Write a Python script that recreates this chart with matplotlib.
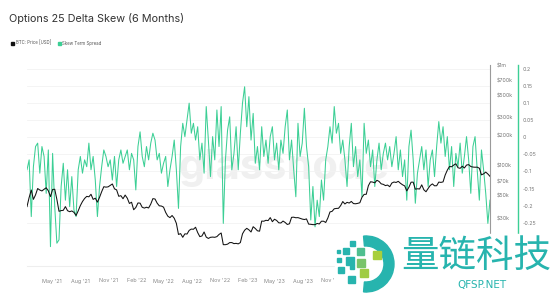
import numpy as np
import pandas as pd
import matplotlib
matplotlib.use("Agg")
import matplotlib.pyplot as plt
import matplotlib.dates as mdates
from matplotlib.patches import Rectangle, Wedge

# Weekly BTC price (USD), Feb 2021 - Apr 2025
btc_price = [
    39000, 48000, 57000, 46000, 51000, 59000, 57000, 55800, 58000, 60000, 56000, 49000,
    57800, 58000, 46000, 35000, 35600, 35800, 39000, 35500, 34700, 35300, 34200, 31800,
    35400, 39900, 43800, 47000, 49300, 48800, 51700, 46000, 47300, 43200, 48200, 54900,
    61500, 60900, 61300, 63300, 65500, 58600, 57200, 49400, 50100, 46700, 50800,
    47300, 41900, 43100, 36300, 38200, 42400, 42200, 38400, 37700, 38400, 37800, 41300,
    46800, 46400, 42200, 39700, 39500, 38500, 34100, 31300, 30300, 31800, 29900, 26600,
    20600, 21000, 19300, 20900, 20800, 22600, 23300, 23200, 24300, 21500, 19600, 19900,
    21800, 19400, 18800, 19300, 19400, 19300, 19600, 20600, 21300, 16300, 16300, 16500,
    17100, 17100, 16700, 16800,
    16600, 17100, 20900, 22700, 23700, 22900, 21800, 24600, 23600, 22400, 22200, 28000,
    27900, 28500, 28300, 30300, 27600, 29200, 28400, 26900, 26800, 28000, 27100, 25900,
    26300, 30500, 30600, 30200, 30300, 29800, 29300, 29000, 29400, 26100, 26000, 25800,
    25800, 26500, 26200, 27900, 27900, 27100, 30000, 34500, 35000, 37100, 37400, 37500,
    39900, 43800, 41400, 43000, 42300,
    43900, 41800, 41600, 42000, 42600, 48300, 51600, 51700, 63000, 68900, 68400, 67200,
    71300, 69400, 65700, 64900, 63100, 63900, 61500, 66900, 68500, 67800, 69600, 66600,
    64300, 62700, 55900, 60800, 68200, 68300, 58100, 58700, 58400, 64200, 57300, 54800,
    59100, 63300, 65600, 62800, 62900, 68400, 67900, 68700, 80500, 89900, 97700, 97200,
    101000, 104000, 95000, 93700,
    98300, 94500, 101000, 102000, 97700, 96500, 96100, 96300, 94000, 80700, 82600, 86000,
    82300, 78000,
]

# Weekly 25 delta skew term spread (6 months)
skew_spread = [
    -0.095, -0.066, -0.232, -0.086, -0.027, -0.017, -0.105, -0.027, -0.056, -0.164,
    -0.037, -0.320, -0.047, -0.203, -0.310, -0.300, -0.144, -0.076, -0.184, -0.095,
    -0.203, -0.115, -0.213, -0.232, -0.095, -0.056, -0.105, -0.066, -0.086, -0.017,
    -0.095, -0.056, -0.125, -0.232, -0.144, -0.086, -0.037, -0.056, -0.086, -0.066,
    -0.125, -0.056, -0.144, -0.066, -0.037, -0.076, -0.056, -0.037, -0.095, -0.047,
    -0.066, -0.154, -0.027, 0.016, -0.056, -0.086, -0.027, -0.066, -0.017, 0.012,
    -0.008, -0.066, -0.047, -0.105, -0.076, -0.056, -0.144, -0.095, -0.056, -0.008,
    -0.095, -0.208, -0.027, 0.041, 0.002, 0.050, 0.100, 0.012, 0.041, -0.008,
    0.031, -0.066, -0.017, -0.105, 0.090, -0.008, -0.115, 0.002, -0.066, 0.080,
    -0.027, 0.090, -0.252, -0.066, 0.021, 0.060, -0.095, -0.047, 0.031, -0.095,
    0.012, 0.100, 0.148, 0.031, 0.119, -0.008, 0.070, -0.076, -0.027, -0.095,
    0.031, -0.056, -0.008, -0.076, 0.002, 0.031, -0.066, -0.017, -0.095, -0.008,
    -0.047, 0.031, 0.080, -0.066, -0.008, -0.095, -0.174, 0.041, -0.056, -0.017,
    0.085, -0.027, -0.086, -0.242, -0.144, -0.262, -0.184, -0.232, -0.125, -0.184,
    -0.066, -0.027, 0.031, -0.017, 0.090, 0.012, 0.041, -0.047, -0.008, -0.066,
    -0.144, -0.027, 0.041, -0.086, -0.027, -0.115, -0.066, -0.174, 0.041, -0.047,
    -0.008, -0.086, -0.037, -0.144, -0.066, -0.017, -0.095, -0.047, -0.017, -0.066,
    -0.027, -0.086, -0.047, 0.002, -0.095, -0.037, -0.115, -0.066, -0.184, -0.027,
    0.021, -0.066, -0.193, -0.105, -0.066, -0.027, -0.095, -0.037, -0.144, -0.066,
    -0.037, -0.115, -0.027, 0.046, -0.017, 0.031, -0.056, 0.002, -0.095, -0.027,
    -0.144, -0.047, -0.086, -0.017, -0.105, -0.056, 0.002, -0.066, -0.164, -0.027,
    0.002, -0.095, -0.184, -0.037, -0.095, -0.164, -0.252, -0.184,
]

dates = pd.date_range("2021-02-07", periods=len(btc_price), freq="W")

# only the labels not hidden by the site watermark
x_ticks = pd.date_range("2021-05-01", "2023-11-01", freq="3MS")
price_ticks = [30000, 50000, 70000, 100000, 200000, 300000, 500000, 700000, 1000000]
price_labels = ["$30k", "$50k", "$70k", "$100k", "$200k", "$300k", "$500k", "$700k", "$1m"]
skew_ticks = [-0.25, -0.2, -0.15, -0.1, -0.05, 0, 0.05, 0.1, 0.15, 0.2]

GREEN = "#3ccf95"
TEAL = "#27b4ae"

plt.rcParams["font.family"] = ["Inter", "DejaVu Sans"]

W, H = 555, 295
fig = plt.figure(figsize=(W / 100, H / 100), dpi=100)
fig.patch.set_facecolor("white")

ax = fig.add_axes([27 / W, 1 - 266 / H, 463 / W, 201 / H])
ax2 = ax.twinx()

# skew (green) on the outer right axis
ax.plot(dates, skew_spread, color=GREEN, lw=0.75, zorder=3)
ax.set_ylim(-0.3767, 0.2117)
ax.set_xlim(dates[0], dates[-1])
ax.set_yticks(skew_ticks)
ax.set_yticklabels([f"{t:g}" for t in skew_ticks])
ax.yaxis.tick_right()
ax.spines["right"].set_position(("outward", 20))
ax.spines["right"].set_color(GREEN)
ax.spines["right"].set_linewidth(1.0)
for s in ["left", "top"]:
    ax.spines[s].set_visible(False)
ax.spines["bottom"].set_color("#eeeeee")
ax.tick_params(axis="y", length=0, pad=3.5, labelsize=3.8, labelcolor="#777777")
ax.grid(axis="y", color="#f3f3f3", lw=0.6)
ax.set_xticks(x_ticks)
ax.xaxis.set_major_formatter(mdates.DateFormatter("%b '%y"))
ax.tick_params(axis="x", length=0, pad=9, labelsize=3.9, labelcolor="#888888")
ax.text(0.555, 0.49, "glassnode", transform=ax.transAxes, ha="center", va="center",
        fontsize=30, fontweight="bold", color="#f0f0f0", zorder=1)

# BTC price (black) on the inner right axis, log scale
ax2.plot(dates, btc_price, color="#111111", lw=0.75, zorder=4)
ax2.set_yscale("log")
ax2.set_ylim(1e4, 1e6)
ax2.set_yticks(price_ticks)
ax2.set_yticklabels(price_labels)
ax2.yaxis.set_minor_locator(matplotlib.ticker.NullLocator())
for s in ["left", "top", "bottom"]:
    ax2.spines[s].set_visible(False)
ax2.spines["right"].set_color("#9a9a9a")
ax2.spines["right"].set_linewidth(0.8)
ax2.tick_params(axis="y", length=0, pad=5, labelsize=3.8, labelcolor="#777777")

# title and legend
fig.text(9 / W, 1 - 18 / H, "Options 25 Delta Skew (6 Months)", fontsize=7.8,
         color="#333333", va="center", ha="left")

ov = fig.add_axes([0, 0, 1, 1], zorder=10)
ov.set_xlim(0, W)
ov.set_ylim(H, 0)
ov.axis("off")
ov.patch.set_alpha(0)

ov.add_patch(Rectangle((10.5, 41.5), 3, 3, color="#111111"))
ov.text(15.5, 43, "BTC: Price [USD]", fontsize=3.1, color="#555555", va="center")
ov.add_patch(Rectangle((57.5, 41.5), 3, 3, color=GREEN))
ov.text(62.5, 43, "Skew Term Spread", fontsize=3.1, color="#555555", va="center")

# site watermark
ov.add_patch(Rectangle((335, 234), W - 335, H - 234, color="white"))
ov.add_patch(Wedge((366, 264), 28, -95, 95, width=10, color=TEAL))
squares = [
    (337, 250, 3, TEAL), (343, 248, 6, TEAL), (350, 241, 5, TEAL), (357, 248, 7, "#4fbf8f"),
    (373, 251, 8, "#a8cf3c"), (337, 258, 4, TEAL), (346, 257, 8, TEAL), (357, 259, 8, "#79c46a"),
    (338, 267, 6, TEAL), (350, 265, 4, TEAL), (360, 269, 8, "#9fcc45"), (348, 276, 7, TEAL),
]
for sx, sy, sz, c in squares:
    ov.add_patch(Rectangle((sx, sy), sz, sz, color=c))
ov.text(476, 256, "量链科技", fontsize=27, color=TEAL, ha="center", va="center",
        family=["Noto Sans CJK SC", "DejaVu Sans"])
ov.text(482, 285, "QFSP.NET", fontsize=7.5, color=TEAL, ha="center", va="center",
        family=["DejaVu Sans"])

fig.savefig("out.png", dpi=100, facecolor="white")
